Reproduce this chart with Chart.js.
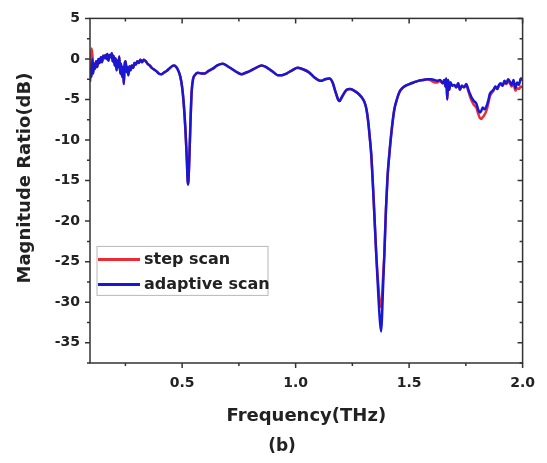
<!DOCTYPE html>
<html>
<head>
<meta charset="utf-8">
<title>Magnitude ratio</title>
<script src="https://cdn.jsdelivr.net/npm/chart.js@4.4.0/dist/chart.umd.min.js"></script>
<style>
  html, body { margin: 0; padding: 0; background: #fff; }
  #wrap { width: 547px; height: 463px; }
</style>
</head>
<body>
<div id="wrap"><canvas id="myChart" width="547" height="463"></canvas></div>
<script>
// frequency in THz
var freq = [0.094,0.098,0.101,0.105,0.108,0.112,0.116,0.121,0.126,0.131,
    0.136,0.142,0.147,0.152,0.157,0.162,0.166,0.170,0.175,0.180,
    0.185,0.190,0.194,0.198,0.203,0.207,0.211,0.215,0.219,0.223,
    0.227,0.231,0.235,0.239,0.243,0.247,0.251,0.255,0.259,0.263,
    0.268,0.273,0.278,0.284,0.290,0.296,0.302,0.309,0.316,0.323,
    0.331,0.340,0.348,0.357,0.366,0.376,0.386,0.397,0.408,0.419,
    0.431,0.443,0.455,0.465,0.474,0.484,0.492,0.500,0.507,0.514,
    0.520,0.526,0.532,0.537,0.542,0.548,0.556,0.569,0.585,0.600,
    0.615,0.635,0.655,0.679,0.700,0.723,0.745,0.762,0.780,0.798,
    0.825,0.850,0.870,0.886,0.905,0.921,0.940,0.960,0.985,1.009,
    1.035,1.061,1.083,1.100,1.114,1.130,1.149,1.163,1.175,1.187,
    1.193,1.200,1.212,1.225,1.240,1.257,1.273,1.290,1.303,1.312,
    1.320,1.327,1.333,1.344,1.355,1.366,1.372,1.377,1.381,1.384,
    1.391,1.398,1.405,1.413,1.423,1.435,1.446,1.457,1.470,1.485,
    1.501,1.520,1.540,1.560,1.580,1.598,1.612,1.624,1.636,1.648,
    1.655,1.660,1.664,1.668,1.672,1.677,1.682,1.690,1.699,1.708,
    1.716,1.724,1.732,1.742,1.752,1.760,1.768,1.776,1.786,1.796,
    1.805,1.812,1.818,1.824,1.832,1.840,1.848,1.856,1.864,1.872,
    1.880,1.888,1.896,1.904,1.912,1.920,1.928,1.936,1.944,1.952,
    1.960,1.968,1.976,1.984,1.992,2.000];

// magnitude ratio in dB
var adaptiveScan = [-2.8,-1.0,-2.2,0.0,-1.8,-0.6,-1.2,-0.3,-1.0,0.0,
    -0.5,0.2,-0.4,0.4,0.1,0.5,0.0,0.6,-0.2,0.5,
    0.2,0.7,-0.3,0.4,-0.8,0.1,-1.4,-0.2,-1.0,0.3,
    -1.8,-0.6,-2.2,-1.0,-3.1,-0.6,-0.3,-1.6,-1.0,-2.0,
    -0.9,-1.4,-0.8,-1.1,-0.5,-0.7,-0.3,-0.5,-0.1,-0.4,
    -0.1,-0.3,-0.6,-0.8,-1.1,-1.3,-1.5,-1.8,-1.9,-1.7,
    -1.5,-1.2,-0.9,-0.8,-1.0,-1.5,-2.2,-3.5,-5.5,-8.5,
    -12.0,-15.5,-12.0,-7.5,-4.0,-2.5,-2.0,-1.7,-1.8,-1.8,
    -1.5,-1.2,-0.8,-0.6,-0.9,-1.3,-1.7,-1.9,-1.7,-1.5,
    -1.1,-0.8,-1.0,-1.3,-1.7,-2.0,-2.0,-1.8,-1.4,-1.1,
    -1.3,-1.7,-2.3,-2.6,-2.7,-2.5,-2.4,-2.9,-4.0,-5.0,
    -5.2,-4.9,-4.3,-3.8,-3.7,-3.9,-4.2,-4.7,-5.3,-6.2,
    -7.8,-9.8,-11.7,-17.5,-24.0,-30.0,-32.5,-33.6,-31.5,-29.0,
    -24.0,-18.5,-14.5,-11.7,-8.8,-6.2,-5.0,-4.1,-3.6,-3.3,
    -3.1,-2.9,-2.7,-2.6,-2.5,-2.5,-2.6,-2.7,-2.6,-3.0,
    -2.6,-3.4,-2.4,-5.0,-2.6,-3.8,-2.9,-3.3,-3.2,-3.5,
    -3.0,-3.8,-3.3,-3.5,-3.1,-3.7,-4.3,-4.8,-5.2,-5.5,
    -6.3,-6.6,-6.4,-6.0,-6.2,-5.9,-5.2,-4.3,-4.0,-3.8,
    -3.4,-3.7,-3.2,-3.0,-3.3,-2.7,-3.0,-2.5,-2.8,-3.2,
    -2.6,-3.6,-2.9,-3.2,-2.4,-2.6];

var stepScan = [-2.0,-0.4,1.3,0.3,-1.6,-0.6,-1.2,-0.3,-1.0,0.0,
    -0.5,0.2,-0.4,0.4,0.1,0.5,0.0,0.6,-0.2,0.5,
    0.2,0.7,-0.3,0.4,-0.8,0.1,-1.4,-0.2,-1.0,0.3,
    -1.8,-0.6,-2.2,-1.0,-3.1,-0.6,-0.3,-1.6,-1.0,-2.0,
    -0.9,-1.4,-0.8,-1.1,-0.5,-0.7,-0.3,-0.5,-0.1,-0.4,
    -0.1,-0.3,-0.6,-0.8,-1.1,-1.3,-1.5,-1.8,-1.9,-1.7,
    -1.5,-1.2,-0.9,-0.8,-1.0,-1.5,-2.2,-3.5,-5.5,-8.5,
    -12.0,-15.5,-12.0,-7.5,-4.0,-2.5,-2.0,-1.7,-1.8,-1.8,
    -1.5,-1.2,-0.8,-0.6,-0.9,-1.3,-1.7,-1.9,-1.7,-1.5,
    -1.1,-0.8,-1.0,-1.3,-1.7,-2.0,-2.0,-1.8,-1.4,-1.1,
    -1.3,-1.7,-2.3,-2.6,-2.7,-2.5,-2.4,-2.9,-4.0,-5.0,
    -5.2,-4.9,-4.3,-3.8,-3.7,-3.9,-4.2,-4.7,-5.3,-6.2,
    -7.8,-9.8,-11.7,-17.5,-24.0,-28.5,-30.2,-30.6,-29.5,-27.5,
    -24.0,-18.5,-14.5,-11.7,-8.8,-6.2,-5.0,-4.1,-3.6,-3.3,
    -3.1,-2.9,-2.7,-2.6,-2.5,-2.7,-2.9,-2.9,-2.7,-3.0,
    -2.6,-3.4,-2.4,-5.0,-2.6,-3.8,-2.9,-3.3,-3.2,-3.5,
    -3.0,-3.8,-3.3,-3.5,-3.2,-3.9,-4.6,-5.2,-5.7,-6.0,
    -6.8,-7.3,-7.4,-7.2,-6.9,-6.4,-5.6,-4.6,-4.2,-3.9,
    -3.4,-3.7,-3.3,-3.1,-3.3,-2.9,-3.1,-2.8,-3.0,-3.4,
    -2.9,-3.9,-3.6,-3.7,-3.4,-3.5];

var seriesNames = ["step scan", "adaptive scan"];
var seriesColors = ["#ee2a35", "#1818d4"];

var xMajorTicks = [0.5, 1.0, 1.5, 2.0];
var xMinorTicks = [0.25, 0.75, 1.25, 1.75];
var yMajorTicks = [-35, -30, -25, -20, -15, -10, -5, 0, 5];
var yMinorTicks = [-37.5, -32.5, -27.5, -22.5, -17.5, -12.5, -7.5, -2.5, 2.5];

var axisColor = "#333";
var textColor = "#222";
var fontName = "'DejaVu Sans', sans-serif";

function toPoints(values) {
    return values.map(function (v, i) { return { x: freq[i], y: v }; });
}

// frame, ticks on all four sides, legend box, y title and panel label
var decorations = {
    id: "decorations",
    afterDraw: function (chart) {
        var ctx = chart.ctx;
        var a = chart.chartArea;
        var xs = chart.scales.x, ys = chart.scales.y;
        ctx.save();
        ctx.strokeStyle = axisColor;
        ctx.lineWidth = 1.5;
        ctx.strokeRect(a.left, a.top, a.right - a.left, a.bottom - a.top);

        ctx.beginPath();
        function xTick(v, len) {
            var px = xs.getPixelForValue(v);
            ctx.moveTo(px, a.bottom); ctx.lineTo(px, a.bottom + len);
            ctx.moveTo(px, a.top); ctx.lineTo(px, a.top + len);
        }
        function yTick(v, len) {
            var py = ys.getPixelForValue(v);
            ctx.moveTo(a.left - len, py); ctx.lineTo(a.left, py);
            ctx.moveTo(a.right - len, py); ctx.lineTo(a.right, py);
        }
        xMajorTicks.forEach(function (v) { xTick(v, 5); });
        xMinorTicks.forEach(function (v) { xTick(v, 3); });
        yMajorTicks.forEach(function (v) { yTick(v, 5); });
        yMinorTicks.forEach(function (v) { yTick(v, 3); });
        ctx.stroke();

        // legend
        var lx = a.left + 7, ly = a.top + 228;
        ctx.strokeStyle = "#b8b8b8";
        ctx.lineWidth = 1;
        ctx.strokeRect(lx, ly, 171, 49);
        ctx.font = "bold 16px " + fontName;
        ctx.textBaseline = "middle";
        ctx.textAlign = "left";
        chart.data.datasets.forEach(function (ds, i) {
            var yy = ly + 13 + i * 25;
            ctx.strokeStyle = ds.borderColor;
            ctx.lineWidth = 3;
            ctx.beginPath();
            ctx.moveTo(lx + 1, yy); ctx.lineTo(lx + 43, yy);
            ctx.stroke();
            ctx.fillStyle = textColor;
            ctx.fillText(ds.label, lx + 47, yy);
        });

        // y axis title
        ctx.save();
        ctx.translate(25, 178);
        ctx.rotate(-Math.PI / 2);
        ctx.font = "bold 18px " + fontName;
        ctx.textAlign = "center";
        ctx.fillStyle = textColor;
        ctx.fillText("Magnitude Ratio(dB)", 0, 0);
        ctx.restore();

        // panel label
        ctx.font = "bold 17px " + fontName;
        ctx.textAlign = "center";
        ctx.fillStyle = textColor;
        ctx.fillText("(b)", 282, 447);
        ctx.restore();
    }
};

new Chart("myChart", {
    type: "line",
    data: {
        datasets: [{
            label: seriesNames[0],
            data: toPoints(stepScan),
            borderColor: seriesColors[0],
            borderWidth: 2.5,
            pointRadius: 0,
            cubicInterpolationMode: "monotone",
            order: 1
        }, {
            label: seriesNames[1],
            data: toPoints(adaptiveScan),
            borderColor: seriesColors[1],
            borderWidth: 2.5,
            pointRadius: 0,
            cubicInterpolationMode: "monotone",
            order: 0
        }]
    },
    options: {
        responsive: false,
        animation: false,
        devicePixelRatio: 1,
        layout: { padding: { top: 14, right: 24, left: 0, bottom: 0 } },
        plugins: {
            legend: { display: false },
            tooltip: { enabled: false }
        },
        scales: {
            x: {
                type: "linear",
                min: 0.094,
                max: 2.0,
                grid: { display: false, drawTicks: false },
                border: { display: false },
                afterBuildTicks: function (scale) {
                    scale.ticks = xMajorTicks.map(function (v) { return { value: v }; });
                },
                afterFit: function (scale) { scale.height = 100; },
                ticks: {
                    padding: 12,
                    color: textColor,
                    font: { family: fontName, size: 14, weight: "bold" },
                    maxRotation: 0,
                    autoSkip: false,
                    callback: function (v) { return Number(v).toFixed(1); }
                },
                title: {
                    display: true,
                    text: "Frequency(THz)",
                    color: textColor,
                    font: { family: fontName, size: 18, weight: "bold" },
                    padding: { top: 0, bottom: 36 }
                }
            },
            y: {
                type: "linear",
                min: -37.5,
                max: 5,
                grid: { display: false, drawTicks: false },
                border: { display: false },
                afterBuildTicks: function (scale) {
                    scale.ticks = yMajorTicks.map(function (v) { return { value: v }; });
                },
                afterFit: function (scale) { scale.width = 90; },
                ticks: {
                    padding: 10,
                    color: textColor,
                    font: { family: fontName, size: 14, weight: "bold" },
                    autoSkip: false,
                    callback: function (v) { return String(v); }
                }
            }
        }
    },
    plugins: [decorations]
});
</script>
</body>
</html>
